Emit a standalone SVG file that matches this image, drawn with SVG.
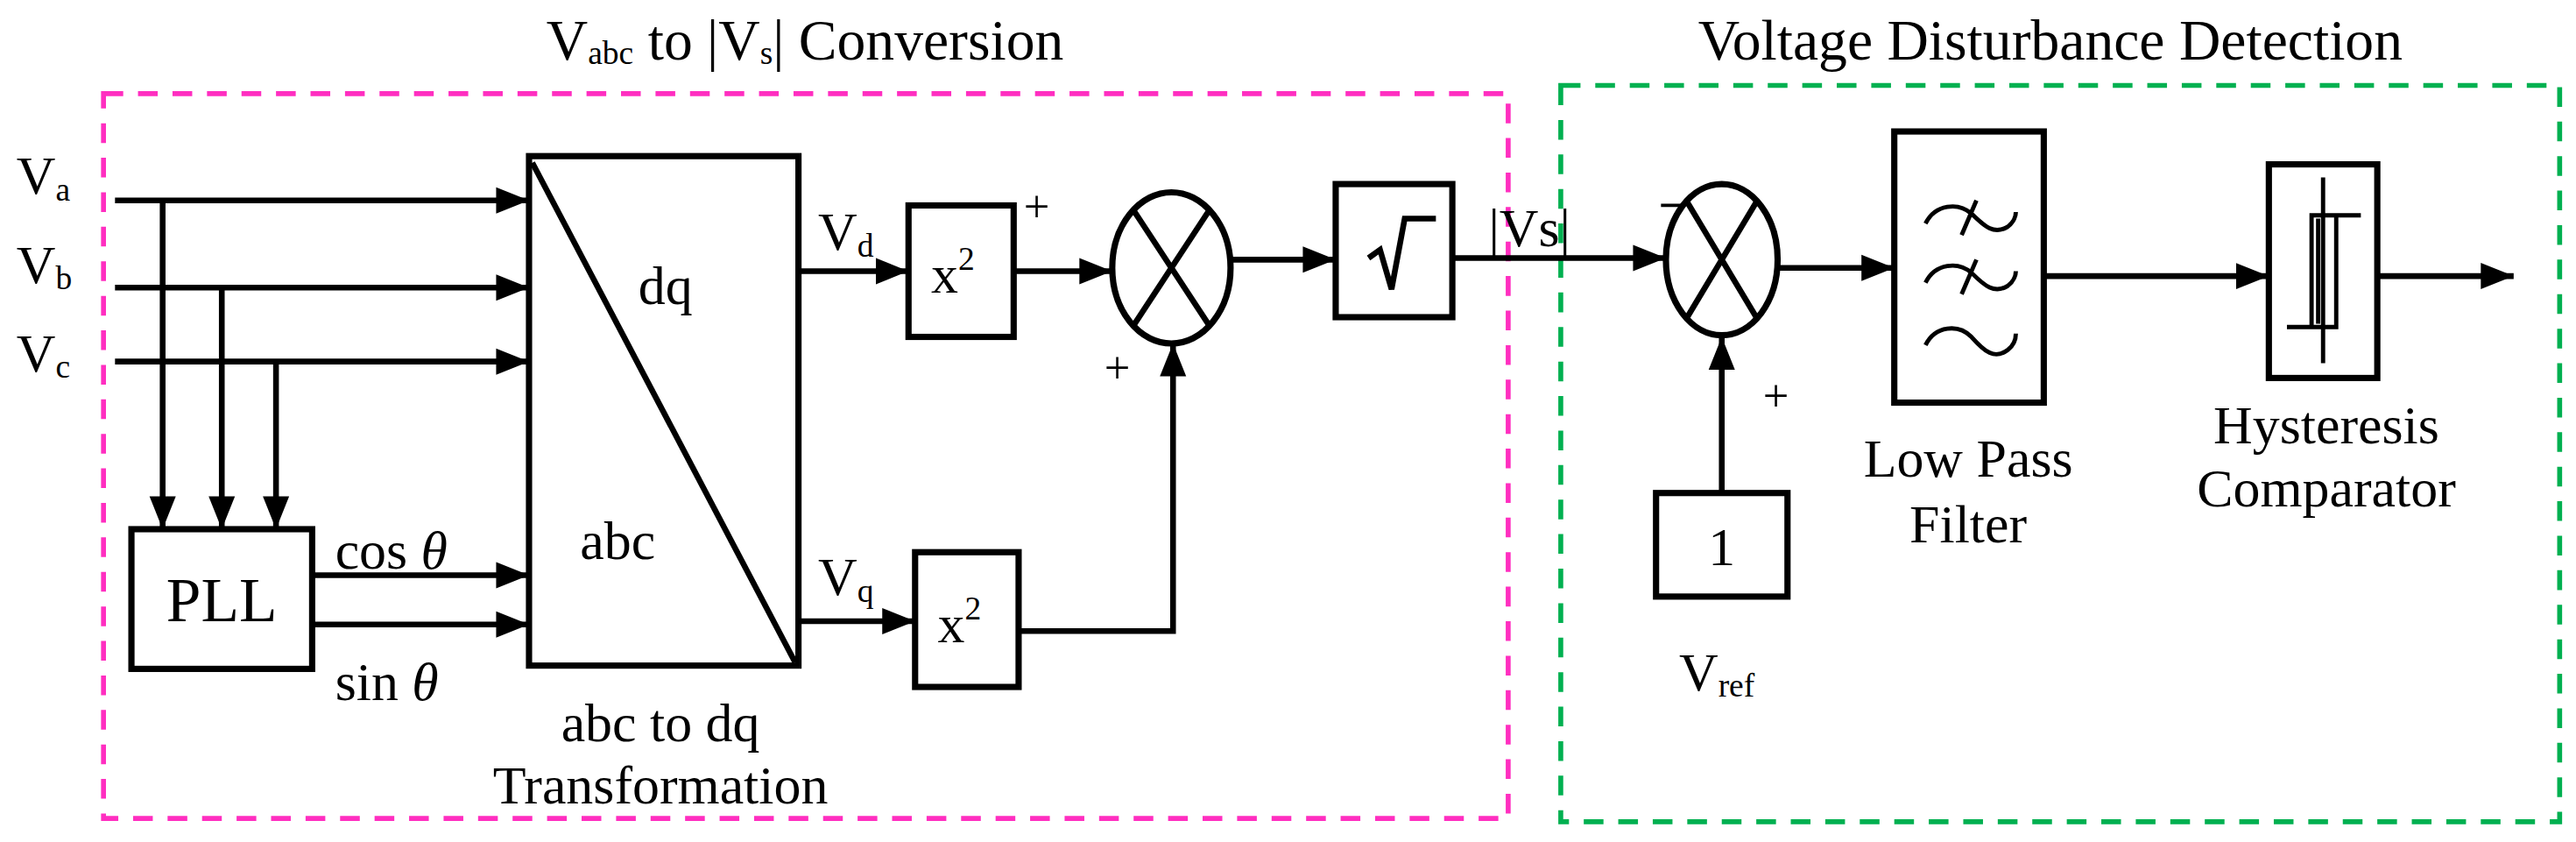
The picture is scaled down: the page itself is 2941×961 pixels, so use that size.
<svg xmlns="http://www.w3.org/2000/svg" width="2941" height="961" viewBox="0 0 2941 961">
<defs>
<style>
text{font-family:"Liberation Serif","Times New Roman",serif;fill:#000}
.t{font-size:35px}
.l{font-size:33px}
.p{font-size:28px}
.s{font-size:20px}
.b{fill:#fff;stroke:#000;stroke-width:3.8}
.w{fill:none;stroke:#000;stroke-width:3.5}
.pk{fill:none;stroke:#ff2ec0;stroke-width:3;stroke-dasharray:12 9}
.gr{fill:none;stroke:#00b050;stroke-width:3;stroke-dasharray:12 9}
</style>
<marker id="a" markerUnits="userSpaceOnUse" markerWidth="20" markerHeight="18" viewBox="0 0 20 18" refX="20" refY="9" orient="auto"><path d="M0,1 L20,9 L0,17 Z" fill="#000"/></marker>
</defs>
<rect width="2941" height="961" fill="#fff"/>
<g transform="scale(1.8757)">
<g id="frames">
<rect class="pk" x="63" y="57" width="855" height="441"/>
<rect class="gr" x="950" y="52" width="608" height="448"/>
<text class="t" x="490" y="36" text-anchor="middle">V<tspan class="s" dy="3">abc</tspan><tspan dy="-3"> to |V</tspan><tspan class="s" dy="3">s</tspan><tspan dy="-3">| Conversion</tspan></text>
<text class="t" x="1248" y="36" text-anchor="middle">Voltage Disturbance Detection</text>
</g>
<g id="connectors">
<path class="w" d="M70,122 H322" marker-end="url(#a)"/>
<path class="w" d="M70,175 H322" marker-end="url(#a)"/>
<path class="w" d="M70,220 H322" marker-end="url(#a)"/>
<path class="w" d="M99,122 V322" marker-end="url(#a)"/>
<path class="w" d="M135,175 V322" marker-end="url(#a)"/>
<path class="w" d="M168,220 V322" marker-end="url(#a)"/>
<path class="w" d="M190,350 H322" marker-end="url(#a)"/>
<path class="w" d="M190,380 H322" marker-end="url(#a)"/>
<path class="w" d="M486,165 H553" marker-end="url(#a)"/>
<path class="w" d="M486,378 H557" marker-end="url(#a)"/>
<path class="w" d="M617,165 H677" marker-end="url(#a)"/>
<path class="w" d="M620,384 H714 V209" marker-end="url(#a)"/>
<path class="w" d="M749,158 H813" marker-end="url(#a)"/>
<path class="w" d="M884,157 H1014" marker-end="url(#a)"/>
<path class="w" d="M1048,300 V205" marker-end="url(#a)"/>
<path class="w" d="M1082,163 H1153" marker-end="url(#a)"/>
<path class="w" d="M1244,168 H1381" marker-end="url(#a)"/>
<path class="w" d="M1447,168 H1530" marker-end="url(#a)"/>
</g>
<g id="labels">
<text class="l" x="10" y="118">V<tspan class="s" dy="4">a</tspan></text>
<text class="l" x="10" y="172">V<tspan class="s" dy="4">b</tspan></text>
<text class="l" x="10" y="226">V<tspan class="s" dy="4">c</tspan></text>
<text class="l" x="204" y="346">cos <tspan font-style="italic">θ</tspan></text>
<text class="l" x="204" y="426">sin <tspan font-style="italic">θ</tspan></text>
<text class="l" x="498" y="152">V<tspan class="s" dy="4">d</tspan></text>
<text class="l" x="498" y="362">V<tspan class="s" dy="4">q</tspan></text>
<text class="p" x="631" y="135" text-anchor="middle">+</text>
<text class="p" x="680" y="233" text-anchor="middle">+</text>
<text class="l" x="906" y="150">|Vs|</text>
<path d="M1011,125 H1032" stroke="#000" stroke-width="2"/>
<text class="p" x="1081" y="250" text-anchor="middle">+</text>
<text class="l" x="1045" y="420" text-anchor="middle">V<tspan class="s" dy="4">ref</tspan></text>
</g>
<g id="pll"><rect class="b" x="80" y="322" width="110" height="85"/><text x="135" y="378" font-size="38" text-anchor="middle">PLL</text></g>
<g id="abcdq"><rect class="b" x="322" y="95" width="164" height="310"/><path class="w" d="M324,99 L484,403"/>
<text class="l" x="405" y="185" text-anchor="middle">dq</text><text class="l" x="376" y="340" text-anchor="middle">abc</text>
<text class="l" x="402" y="451" text-anchor="middle">abc to dq</text><text class="l" x="402" y="489" text-anchor="middle">Transformation</text></g>
<g id="sqd"><rect class="b" x="553" y="125" width="64" height="80"/><text class="l" x="580" y="178" text-anchor="middle">x<tspan class="s" dy="-14">2</tspan></text></g>
<g id="sqq"><rect class="b" x="557" y="336" width="63" height="82"/><text class="l" x="584" y="391" text-anchor="middle">x<tspan class="s" dy="-14">2</tspan></text></g>
<g id="sum1"><ellipse class="b" cx="713" cy="163" rx="36" ry="46"/><path class="w" d="M690,128 L736,198 M736,128 L690,198"/></g>
<g id="sqrt"><rect class="b" x="813" y="112" width="71" height="81"/><path class="w" d="M833,157 L840,152 L847,176 L855,133 H874"/></g>
<g id="sum2"><ellipse class="b" cx="1048" cy="158" rx="34" ry="46"/><path class="w" d="M1027,123 L1069,193 M1069,123 L1027,193"/></g>
<g id="vref"><rect class="b" x="1008" y="300" width="80" height="63"/><text class="l" x="1048" y="344" text-anchor="middle">1</text></g>
<g id="lpf"><rect class="b" x="1153" y="80" width="91" height="165"/>
<path class="w" style="stroke-width:2.6" d="M1172,136 C1178,124 1192,123 1200,130 C1208,138 1214,143 1222,138 C1226,135 1227,131 1227,129 M1203,122 L1194,143 M1172,172 C1178,160 1192,159 1200,166 C1208,174 1214,179 1222,174 C1226,171 1227,167 1227,165 M1203,158 L1194,179 M1172,210 C1178,198 1192,197 1200,205 C1208,214 1214,219 1222,213 C1226,210 1227,206 1227,203"/>
<text class="l" x="1198" y="290" text-anchor="middle">Low Pass</text><text class="l" x="1198" y="330" text-anchor="middle">Filter</text></g>
<g id="hyst"><rect class="b" x="1381" y="100" width="66" height="130"/>
<path class="w" style="stroke-width:2.6" d="M1414,108 V221 M1392,199 H1422 V131 H1437 M1407,199 V131 H1422 M1411,197 V133"/>
<text class="l" x="1416" y="270" text-anchor="middle">Hysteresis</text><text class="l" x="1416" y="308" text-anchor="middle">Comparator</text></g>
</g>
</svg>
